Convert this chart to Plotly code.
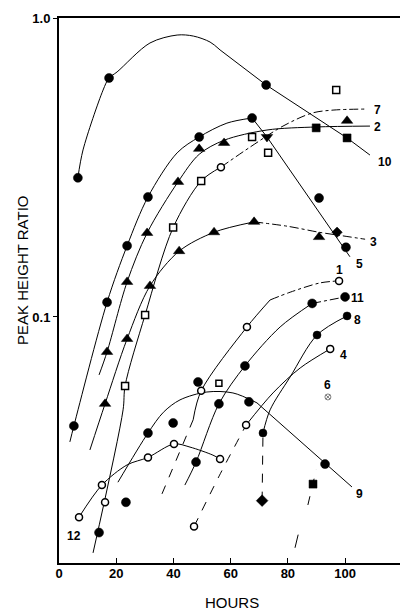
import numpy as np
import plotly.graph_objects as go

# ---------------- data (hours, peak height ratio) ----------------
# Series 10
s10_x = [6.6, 17.5, 72.4]
s10_y = [0.292, 0.63, 0.597]
s10_sq_x = [100.7]
s10_sq_y = [0.397]
c10a_x = [6.6, 8.4, 15.4, 17.5, 20.3, 31.8, 41.3, 47.0, 52.8, 56.3]
c10a_y = [0.292, 0.362, 0.574, 0.63, 0.66, 0.825, 0.877, 0.87, 0.831, 0.782]
c10b_x = [56.3, 72.4, 100.7, 108.7]
c10b_y = [0.782, 0.597, 0.397, 0.348]

# Series 2
s2_x = [16.8, 23.8, 30.8, 41.6, 49.0, 57.7, 100.7]
s2_y = [0.0764, 0.131, 0.191, 0.283, 0.365, 0.382, 0.453]
s2_sq_x = [89.9]
s2_sq_y = [0.429]
c2_x = [14.0, 16.8, 23.8, 30.8, 41.6, 49.0, 57.7, 72.7, 89.9, 108.7]
c2_y = [0.064, 0.0764, 0.131, 0.191, 0.283, 0.35, 0.39, 0.422, 0.432, 0.435]

# Series 5
s5_x = [5.2, 16.8, 23.8, 31.1, 49.0, 67.5, 90.9, 100.3]
s5_y = [0.0432, 0.112, 0.173, 0.252, 0.40, 0.463, 0.25, 0.171]
s5_tri_x = [72.7]
s5_tri_y = [0.40]
c5a_x = [3.8, 5.2, 16.8, 23.8, 31.1, 41.3, 49.0, 58.7, 67.5]
c5a_y = [0.0382, 0.0432, 0.112, 0.173, 0.252, 0.354, 0.40, 0.445, 0.463]
c5b_x = [67.5, 72.7, 101.7]
c5b_y = [0.463, 0.40, 0.159]

# Series 3
s3_x = [16.1, 23.8, 31.8, 42.0, 54.2, 68.2, 90.9]
s3_y = [0.0512, 0.0844, 0.127, 0.166, 0.192, 0.208, 0.185]
s3_o_x = [97.2]
s3_o_y = [0.192]
c3a_x = [10.8, 16.1, 23.8, 31.8, 42.0, 54.2, 68.2]
c3a_y = [0.0359, 0.0512, 0.0844, 0.127, 0.166, 0.192, 0.208]
c3b_x = [68.2, 80.0, 90.9, 97.2, 107.0]
c3b_y = [0.208, 0.201, 0.192, 0.188, 0.182]

# Series 7
s7_x = [23.1, 30.1, 39.9, 49.7, 67.5, 73.1, 96.9]
s7_y = [0.0588, 0.1016, 0.199, 0.285, 0.40, 0.354, 0.574]
s7_c_x = [56.6]
s7_c_y = [0.317]
c7a_x = [11.9, 22.4, 23.1, 30.1, 39.9, 49.7, 56.6]
c7a_y = [0.01625, 0.0489, 0.0588, 0.1016, 0.199, 0.285, 0.317]
c7b_x = [56.6, 66.8, 78.3, 88.5, 95.8, 107.7]
c7b_y = [0.317, 0.37, 0.435, 0.481, 0.492, 0.496]

# Series 1
s1_x = [49.7, 65.7, 97.9]
s1_y = [0.0566, 0.0926, 0.132]
c1a_x = [36.0, 46.9]
c1a_y = [0.0256, 0.0453]
c1b_x = [46.9, 49.7, 65.7, 73.8]
c1b_y = [0.0453, 0.0566, 0.0926, 0.114]
c1c_x = [73.8, 80.8, 91.3, 97.9]
c1c_y = [0.114, 0.121, 0.130, 0.132]

# Series 11
s11_x = [47.9, 55.9, 65.0, 88.5, 100.0]
s11_y = [0.0327, 0.0512, 0.0686, 0.111, 0.1167]
c11a_x = [44.0, 47.9, 55.9, 65.0, 77.3, 88.5]
c11a_y = [0.0274, 0.0327, 0.0512, 0.0686, 0.0926, 0.111]
c11b_x = [88.5, 100.0]
c11b_y = [0.111, 0.1167]

# Series 8
s8_x = [71.3, 90.2, 100.7]
s8_y = [0.0409, 0.087, 0.1008]
s8_d_x = [71.0]
s8_d_y = [0.0243]
c8a_x = [71.0, 71.3]
c8a_y = [0.0243, 0.0409]
c8b_x = [71.3, 73.8, 80.8, 90.2, 100.7]
c8b_y = [0.0409, 0.0489, 0.063, 0.087, 0.1008]

# Series 4
s4_x = [47.2, 65.4, 94.8]
s4_y = [0.0199, 0.0435, 0.0782]
c4a_x = [47.2, 56.0, 65.4]
c4a_y = [0.0199, 0.0294, 0.0435]
c4b_x = [65.4, 74.8, 84.3, 94.8]
c4b_y = [0.0435, 0.0557, 0.0675, 0.0782]

# Series 9
s9_x = [23.4, 31.1, 39.9, 66.4, 93.0]
s9_y = [0.024, 0.0409, 0.0442, 0.052, 0.0322]
c9a_x = [20.6, 31.1, 36.5, 42.3, 51.7, 60.8, 69.2]
c9a_y = [0.028, 0.0409, 0.048, 0.0528, 0.0561, 0.0557, 0.0516]
c9b_x = [69.2, 102.4]
c9b_y = [0.0516, 0.027]

# Series 12
s12_x = [7.0, 15.0, 16.1, 31.1, 40.2, 56.3]
s12_y = [0.0214, 0.0274, 0.024, 0.0339, 0.0376, 0.0335]
c12_x = [7.0, 15.0, 23.8, 31.1, 40.2, 45.8, 53.8, 56.3]
c12_y = [0.0214, 0.0274, 0.032, 0.0339, 0.0376, 0.0367, 0.0345, 0.0335]

# Series 6
s6_x = [88.8]
s6_y = [0.0276]
c6a_x = [87.0, 89.9]
c6a_y = [0.0235, 0.0308]
c6b_x = [82.5, 83.6]
c6b_y = [0.0169, 0.0187]
s6_o_x = [94.0]
s6_o_y = [0.054]

# unattributed points
oth_fill_x = [14.0, 48.6]
oth_fill_y = [0.019, 0.0606]
oth_open_x = [55.9]
oth_open_y = [0.060]

# curve labels
lab_text = ["10", "7", "2", "3", "5", "1", "11", "8", "4", "6", "9", "12"]
lab_x = [114.0, 111.5, 111.2, 109.8, 105.2, 97.9, 104.2, 104.5, 99.3, 94.0, 105.2, 5.2]
lab_y = [0.33, 0.492, 0.432, 0.178, 0.150, 0.1436, 0.116, 0.0977, 0.0746, 0.0592, 0.0256, 0.0185]

x_ticks = [0, 20, 40, 60, 80, 100]
y_ticks = [0.1, 1.0]
y_tick_text = ["0.1", "1.0"]

# ---------------- figure ----------------
fig = go.Figure()
LW = 1.0


def line(x, y, dash="solid", shape="spline"):
    fig.add_trace(go.Scatter(x=x, y=y, mode="lines",
                             line=dict(color="black", width=LW, dash=dash,
                                       shape=shape, smoothing=0.9),
                             hoverinfo="skip", showlegend=False))


def marks(x, y, symbol, size=8, open_=False):
    if open_:
        m = dict(symbol=symbol, size=size, color="white",
                 line=dict(color="black", width=1.5))
    else:
        m = dict(symbol=symbol, size=size, color="black",
                 line=dict(color="black", width=0.5))
    fig.add_trace(go.Scatter(x=x, y=y, mode="markers", marker=m,
                             showlegend=False))


# lines
line(c10a_x, c10a_y)
line(c10b_x, c10b_y, shape="linear")
line(c2_x, c2_y)
line(c5a_x, c5a_y)
line(c5b_x, c5b_y, shape="linear")
line(c3a_x, c3a_y)
line(c3b_x, c3b_y, dash="dashdot")
line(c7a_x, c7a_y)
line(c7b_x, c7b_y, dash="dashdot")
line(c1a_x, c1a_y, dash="dash", shape="linear")
line(c1b_x, c1b_y)
line(c1c_x, c1c_y, dash="dashdot")
line(c11a_x, c11a_y)
line(c11b_x, c11b_y, dash="dashdot", shape="linear")
line(c8a_x, c8a_y, dash="dash", shape="linear")
line(c8b_x, c8b_y)
line(c4a_x, c4a_y, dash="dash")
line(c4b_x, c4b_y)
line(c9a_x, c9a_y)
line(c9b_x, c9b_y, shape="linear")
line(c12_x, c12_y)
line(c6a_x, c6a_y, dash="dash", shape="linear")
line(c6b_x, c6b_y, shape="linear")

# markers
marks(s10_x, s10_y, "circle", 9)
marks(s10_sq_x, s10_sq_y, "square", 8)
marks(s2_x, s2_y, "triangle-up", 10)
marks(s2_sq_x, s2_sq_y, "square", 8)
marks(s5_x, s5_y, "circle", 9)
marks(s5_tri_x, s5_tri_y, "triangle-down", 10)
marks(s3_x, s3_y, "triangle-up", 10)
marks(s3_o_x, s3_o_y, "diamond", 8)
marks(s7_x, s7_y, "square", 7, open_=True)
marks(s7_c_x, s7_c_y, "circle", 7, open_=True)
marks(s1_x, s1_y, "circle", 7, open_=True)
marks(s11_x, s11_y, "circle", 9)
marks(s8_x, s8_y, "circle-x", 8)
marks(s8_d_x, s8_d_y, "diamond", 9)
marks(s4_x, s4_y, "circle", 7, open_=True)
marks(s9_x, s9_y, "circle", 9)
marks(s12_x, s12_y, "circle", 7, open_=True)
marks(s6_x, s6_y, "square", 8)
marks(s6_o_x, s6_o_y, "circle-x-open", 6)
marks(oth_fill_x, oth_fill_y, "circle", 9)
marks(oth_open_x, oth_open_y, "square", 6, open_=True)

FONT = "Liberation Sans, Arial, sans-serif"
for t, x, y in zip(lab_text, lab_x, lab_y):
    fig.add_annotation(x=x, y=np.log10(y), text="<b>%s</b>" % t,
                       showarrow=False, xref="x", yref="y",
                       font=dict(family=FONT, size=12, color="black"))

fig.add_annotation(x=-0.108, y=0.5376, xref="paper", yref="paper",
                   xanchor="center", yanchor="middle",
                   text="PEAK HEIGHT RATIO", textangle=-90, showarrow=False,
                   font=dict(family=FONT, size=15, color="black"))
fig.add_annotation(x=0.503, y=-0.073, xref="paper", yref="paper",
                   xanchor="center", yanchor="middle",
                   text="HOURS", showarrow=False,
                   font=dict(family=FONT, size=15, color="black"))

fig.update_xaxes(range=[0, 119.9], tickvals=x_ticks,
                 ticktext=["<b>%d</b>" % v for v in x_ticks],
                 ticks="inside", ticklen=5, tickwidth=1.2, tickcolor="black",
                 ticklabelstandoff=-3, automargin=False,
                 showline=True, linewidth=2, linecolor="black", mirror=True,
                 showgrid=False, zeroline=False,
                 tickfont=dict(family=FONT, size=13, color="black"))
fig.update_yaxes(type="log", range=[-1.823, 0.0], tickvals=y_ticks,
                 ticktext=["<b>%s</b>" % t for t in y_tick_text],
                 ticks="outside", ticklen=4, tickwidth=1.2, tickcolor="black",
                 automargin=False,
                 showline=True, linewidth=2, linecolor="black", mirror=True,
                 showgrid=False, zeroline=False,
                 tickfont=dict(family=FONT, size=13, color="black"))

# page body has an 8px default margin, so the figure is sized to fit
fig.update_layout(width=400, height=607,
                  margin=dict(l=51, r=6, t=10, b=52, autoexpand=False),
                  paper_bgcolor="white", plot_bgcolor="white",
                  showlegend=False)

fig.write_html("out.html")
